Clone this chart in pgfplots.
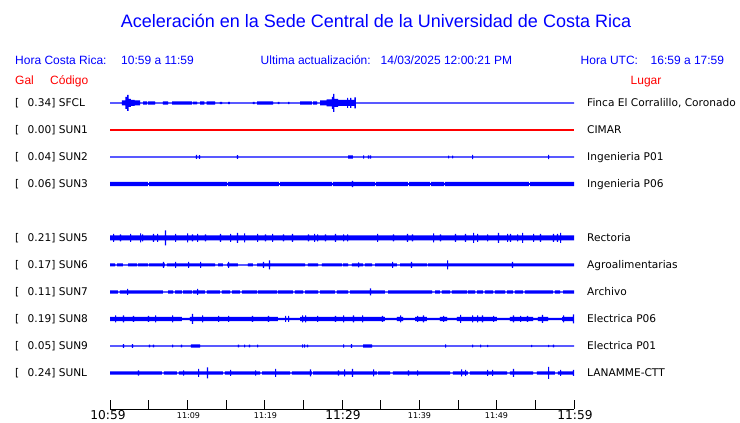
\documentclass[border=0pt]{standalone}
\usepackage{pgfplots}
\pgfplotsset{compat=1.18}
\usepackage{pgfplotstable}
\usepgfplotslibrary{fillbetween}
\usepackage{fontspec}
\setmainfont{Liberation Sans}
\newfontfamily\dv{DejaVu Sans}

% t = minutes after 10:59, h = half-height of the trace envelope (px)
\pgfplotstableread{
t h
0 0.6
1.55 2.5
2.0 6
2.2 8
2.4 4
2.7 3
3.2 2.5
3.88 0.6
4.27 1.6
4.78 0.6
4.91 1.6
5.82 0.6
6.85 1.6
7.5 0.6
8.02 1.6
10.6 0.6
10.73 1.3
11.25 0.6
11.64 1.6
12.2 0.6
12.5 1.6
13.58 0.6
14.22 1.2
14.5 0.6
15.26 1.2
15.5 0.6
18.49 1.2
18.7 0.6
19.01 1.6
21.08 0.6
21.72 1.2
21.9 0.6
23.02 1.2
23.2 0.6
24.57 1.6
26.12 0.6
26.25 1.6
26.77 0.6
27.16 2.5
28.0 3.5
28.7 6
28.84 9
29.0 4
29.5 3
30.65 5
30.8 3
31.04 5
31.2 3
31.6 5.5
31.81 0.6
60 0.6
}\tSFCL

\pgfplotstableread{
t h
0 0.6
11.12 2
11.27 0.6
11.5 1.8
11.65 0.6
16.42 1.8
16.57 0.6
30.78 1.6
31.42 0.6
32.72 1.6
32.87 0.6
33.36 1.6
33.51 0.6
33.62 1.6
33.77 0.6
43.71 1.3
43.86 0.6
44.23 1.3
44.38 0.6
46.81 2.2
46.96 0.6
56.64 2.2
56.79 0.6
60 0.6
}\tSUNb

\pgfplotstableread{
t h
0 2.1
4.91 0.8
5.06 2.1
15.13 0.8
15.28 2.1
21.85 0.8
22.0 2.1
28.71 0.8
28.86 2.1
31.29 3.2
31.44 2.1
34.27 0.8
34.42 2.1
38.53 0.8
38.68 2.1
41.38 0.8
41.53 2.1
43.19 0.8
43.34 2.1
54.18 0.8
54.33 2.1
60 2.1
}\tSUNc

\pgfplotstableread{
t h
0 2.5
0.39 4
0.54 2.5
1.29 3.5
1.44 2.5
2.59 4
2.74 2.5
3.88 4.5
4.03 2.5
4.14 3.5
4.29 2.5
5.56 4
5.71 2.5
6.08 4
6.23 2.5
7.11 7.5
7.26 2.5
8.41 4
8.56 2.5
9.96 4.5
10.11 2.5
10.6 3.5
10.75 2.5
11.25 4
11.4 2.5
12.28 3.5
12.43 2.5
14.22 4
14.37 2.5
15.52 4
15.67 2.5
16.42 5
16.57 2.5
17.33 4.5
17.48 2.5
19.01 4
19.16 2.5
20.04 3.5
20.19 2.5
20.95 4
21.1 2.5
22.37 3.5
22.52 2.5
23.53 4
23.68 2.5
25.6 3.5
25.75 2.5
26.38 4
26.53 2.5
26.77 3.5
26.92 2.5
27.8 3.5
27.95 2.5
29.09 4
29.24 2.5
30.13 3.5
30.28 2.5
30.65 3.5
30.8 2.5
34.53 4
34.68 2.5
36.59 3.5
36.74 2.5
38.4 4
38.55 2.5
39.05 3.5
39.2 2.5
41.77 4.5
41.92 2.5
42.67 3.5
42.82 2.5
44.61 4
44.76 2.5
45.9 4
46.05 2.5
46.94 5
47.09 2.5
47.46 4
47.61 2.5
48.75 3.5
48.9 2.5
50.17 5
50.32 2.5
51.34 4
51.49 2.5
51.72 4
51.87 2.5
52.63 3.5
52.78 2.5
53.28 5
53.43 2.5
54.7 4
54.85 2.5
55.6 4
55.75 2.5
57.28 4
57.43 2.5
57.8 4
57.95 2.5
58.19 5
58.34 2.5
60 2.5
}\tSUNe

\pgfplotstableread{
t h
0 1.5
0.65 0.6
0.91 1.5
1.68 0.6
2.33 1.5
3.49 0.6
3.62 1.5
4.91 0.6
5.04 1.5
6.85 3
7.0 1.5
7.11 0.6
7.37 1.5
8.41 3
8.56 1.5
10.09 3
10.24 1.5
11.64 3
11.79 1.5
13.58 0.6
13.97 1.5
14.61 0.6
15.13 1.5
15.26 3
15.41 1.5
16.55 0.6
17.84 1.5
18.49 0.6
19.01 1.5
19.78 3
19.93 1.5
20.56 4.5
20.71 1.5
25.22 0.6
25.6 1.5
26.9 0.6
27.41 1.5
30.0 0.6
30.13 1.5
30.78 0.6
31.29 1.5
32.07 2.5
32.22 1.5
32.72 0.6
32.97 1.5
33.88 0.6
34.27 1.5
36.47 3
36.62 1.5
37.11 0.6
37.5 1.5
38.92 3
39.07 1.5
40.99 0.6
41.12 1.5
43.58 4.5
43.73 1.5
51.98 3
52.13 1.5
60 1.5
}\tSUNf

\pgfplotstableread{
t h
0 1.6
1.03 0.6
1.29 1.6
2.2 3
2.35 1.6
6.85 0.6
7.5 1.6
8.15 0.6
8.41 1.6
9.31 0.6
9.44 1.6
10.6 0.6
10.73 1.6
11.25 3
11.4 1.6
12.28 0.6
12.54 1.6
14.22 0.6
14.48 1.6
15.52 0.6
15.78 1.6
16.81 0.6
17.07 1.6
19.01 0.6
19.14 1.6
21.59 0.6
21.72 1.6
23.66 0.6
23.92 1.6
24.96 0.6
25.22 1.6
26.9 0.6
27.16 1.6
29.09 0.6
29.35 1.6
30.78 0.6
31.04 1.6
33.62 3.5
33.77 1.6
35.56 0.6
35.95 1.6
41.64 0.6
42.03 1.6
42.67 0.6
42.93 1.6
43.97 0.6
44.22 1.6
46.16 0.6
46.29 1.6
47.2 0.6
47.46 1.6
48.23 0.6
48.49 1.6
49.53 0.6
49.78 1.6
51.08 0.6
51.34 1.6
52.11 0.6
52.37 1.6
53.4 0.6
53.66 1.6
57.28 0.6
57.54 1.6
58.19 0.6
58.58 1.6
60 1.6
}\tSUNg

\pgfplotstableread{
t h
0 2.1
0.65 3.5
0.8 2.1
1.68 3.5
1.83 2.1
2.97 3
3.12 2.1
4.91 3
5.06 2.1
5.82 3.5
5.97 2.1
8.02 3.5
8.17 2.1
9.31 1.2
10.34 2.1
10.6 5
10.75 2.1
11.9 3.5
12.05 2.1
13.97 3
14.12 2.1
15.26 3
15.41 2.1
18.36 3
18.51 2.1
20.43 3
20.58 2.1
21.72 1.2
22.63 3
22.78 1.2
23.02 3
23.17 1.2
24.57 2.1
24.83 3.5
24.98 2.1
25.22 3.5
25.37 2.1
26.77 3
26.92 2.1
29.09 3
29.24 2.1
30.13 3.5
30.28 2.1
31.42 3.5
31.57 2.1
32.59 3.5
32.74 2.1
35.17 3
35.32 2.1
35.56 1.2
37.11 2.1
37.5 3.5
37.65 2.1
37.89 1.2
39.44 2.1
39.7 3
39.85 2.1
40.47 3.5
40.62 2.1
40.99 1.2
42.67 2.1
43.06 3
43.21 2.1
43.58 1.2
44.87 2.1
45.26 4
45.41 2.1
46.81 3.5
46.96 2.1
47.46 3.5
47.61 2.1
48.1 3.5
48.25 2.1
49.53 3
49.68 2.1
50.04 1.2
51.72 2.1
52.11 3.5
52.26 2.1
53.02 3
53.17 2.1
53.92 3
54.07 2.1
54.7 1.2
55.34 2.1
55.86 4
56.01 2.1
56.64 1.2
58.45 2.1
58.58 3.5
58.73 2.1
59.87 4.5
60 4.5
}\tSUNh

\pgfplotstableread{
t h
0 0.6
1.68 1.8
1.83 0.6
2.84 1.8
2.99 0.6
5.04 1.4
5.19 0.6
5.56 1.4
5.71 0.6
8.02 1.4
8.17 0.6
9.18 1.4
9.33 0.6
10.47 1.6
11.64 0.6
16.55 1.4
16.7 0.6
17.33 1.4
17.48 0.6
17.97 1.4
18.12 0.6
19.01 1.4
19.16 0.6
24.83 1.6
24.98 0.6
25.09 1.6
25.24 0.6
25.47 1.4
25.62 0.6
30.13 1.6
30.28 0.6
31.16 1.8
31.31 0.6
32.72 1.6
33.88 0.6
43.32 1.6
43.47 0.6
46.81 1.4
46.96 0.6
47.85 1.3
48.0 0.6
48.75 1.1
48.9 0.6
54.44 1.1
54.59 0.6
56.64 1.1
56.79 0.6
57.28 1.4
57.43 0.6
60 0.6
}\tSUNi

\pgfplotstableread{
t h
0 1.7
3.62 2.6
3.77 1.7
6.72 0.6
6.98 1.7
8.66 0.6
8.92 1.7
9.44 2.6
9.59 1.7
11.38 4
11.53 1.7
12.54 5.5
12.69 1.7
14.61 0.6
14.87 1.7
15.52 3
15.67 1.7
18.75 2.6
18.9 1.7
19.4 0.6
19.66 1.7
21.34 4
21.49 1.7
23.28 0.6
23.53 1.7
25.86 3.5
26.01 1.7
26.12 0.6
26.25 1.7
29.48 2.6
29.63 1.7
30.26 3.5
30.41 1.7
31.29 4
31.44 1.7
34.01 3.5
34.16 1.7
34.53 0.6
34.66 1.7
36.21 0.6
36.59 1.7
38.53 2.6
38.68 1.7
39.7 2.6
39.85 1.7
43.97 0.6
44.35 1.7
45.39 3.5
45.54 1.7
45.91 3
46.06 1.7
46.29 0.6
46.55 1.7
48.75 3
48.9 1.7
49.4 3
49.55 1.7
51.34 0.6
51.72 1.7
52.11 4
52.26 1.7
54.7 0.6
55.21 1.7
56.64 6
56.79 1.7
57.54 0.6
57.93 1.7
58.19 3
58.34 1.7
59.87 3
60 3
}\tSUNL

\newcommand{\seis}[3]{%
  \addplot[draw=none, const plot, name path=up#3]
    table[x expr=110+7.73333*\thisrow{t}, y expr=-#2+\thisrow{h}] {#1};
  \addplot[draw=none, const plot, name path=lo#3]
    table[x expr=110+7.73333*\thisrow{t}, y expr=-#2-\thisrow{h}] {#1};
  \addplot[fill=blue, draw=none] fill between[of=up#3 and lo#3];
}

\newcommand{\lbl}[4]{% y, gal, code, place
  \node[anchor=base west, inner sep=0pt, font=\dv\fontsize{10.6}{12}\selectfont] at (axis cs:15,-#1-4) {[};
  \node[anchor=base west, inner sep=0pt, font=\dv\fontsize{10.6}{12}\selectfont] at (axis cs:27.5,-#1-4) {#2] #3};
  \node[anchor=base west, inner sep=0pt, font=\dv\fontsize{10.6}{12}\selectfont] at (axis cs:587,-#1-4) {#4};
}

\begin{document}
\begin{tikzpicture}
\begin{axis}[width=740pt, height=423pt, scale only axis,
  xmin=0, xmax=740, ymin=-423, ymax=0, hide axis, clip=false]

\seis{\tSFCL}{103}{a}
\addplot[red, line width=1.3pt] table[x expr=110+7.73333*\thisrow{t}, y expr=-130] {
t
0
60
};
\seis{\tSUNb}{157}{b}
\seis{\tSUNc}{184}{c}
\seis{\tSUNe}{238}{e}
\seis{\tSUNf}{265}{f}
\seis{\tSUNg}{292}{g}
\seis{\tSUNh}{319}{h}
\seis{\tSUNi}{346}{i}
\seis{\tSUNL}{373}{l}

% title and header
\node[anchor=base, inner sep=0pt, text=blue, font=\fontsize{18}{20}\selectfont] at (axis cs:376,-27.5) {Aceleración en la Sede Central de la Universidad de Costa Rica};
\begin{scope}[every node/.style={anchor=base west, inner sep=0pt, text=blue, font=\fontsize{12}{14}\selectfont}]
\node at (axis cs:15,-65) {Hora Costa Rica:};
\node at (axis cs:121,-65) {10:59 a 11:59};
\node at (axis cs:260.5,-65) {Ultima actualización:};
\node at (axis cs:380.5,-65) {14/03/2025 12:00:21 PM};
\node at (axis cs:580.5,-65) {Hora UTC:};
\node at (axis cs:650.5,-65) {16:59 a 17:59};
\end{scope}
\begin{scope}[every node/.style={anchor=base west, inner sep=0pt, text=red, font=\fontsize{12}{14}\selectfont}]
\node at (axis cs:15,-85) {Gal};
\node at (axis cs:50,-85) {Código};
\node at (axis cs:630.5,-85) {Lugar};
\end{scope}

\lbl{103}{0.34}{SFCL}{Finca El Corralillo, Coronado}
\lbl{130}{0.00}{SUN1}{CIMAR}
\lbl{157}{0.04}{SUN2}{Ingenieria P01}
\lbl{184}{0.06}{SUN3}{Ingenieria P06}
\lbl{238}{0.21}{SUN5}{Rectoria}
\lbl{265}{0.17}{SUN6}{Agroalimentarias}
\lbl{292}{0.11}{SUN7}{Archivo}
\lbl{319}{0.19}{SUN8}{Electrica P06}
\lbl{346}{0.05}{SUN9}{Electrica P01}
\lbl{373}{0.24}{SUNL}{LANAMME-CTT}

% time axis
\draw[line width=1pt] (axis cs:110,-409.5) -- (axis cs:574,-409.5);
\pgfplotsinvokeforeach{0,...,12}{
  \draw[line width=1pt] (axis cs:110+38.6667*#1,-409.5) -- (axis cs:110+38.6667*#1,-400.5);
}
\begin{scope}[every node/.style={anchor=base, inner sep=0pt}]
\node[font=\dv\fontsize{12.2}{14}\selectfont] at (axis cs:108,-420) {10:59};
\node[font=\dv\fontsize{12.2}{14}\selectfont] at (axis cs:343,-420) {11:29};
\node[font=\dv\fontsize{12.2}{14}\selectfont] at (axis cs:575,-420) {11:59};
\node[font=\dv\fontsize{8}{9}\selectfont] at (axis cs:188.5,-419) {11:09};
\node[font=\dv\fontsize{8}{9}\selectfont] at (axis cs:265.5,-419) {11:19};
\node[font=\dv\fontsize{8}{9}\selectfont] at (axis cs:419.5,-419) {11:39};
\node[font=\dv\fontsize{8}{9}\selectfont] at (axis cs:496.5,-419) {11:49};
\end{scope}
\end{axis}
\path (0,0) rectangle (740pt,423pt);
\end{tikzpicture}
\end{document}
